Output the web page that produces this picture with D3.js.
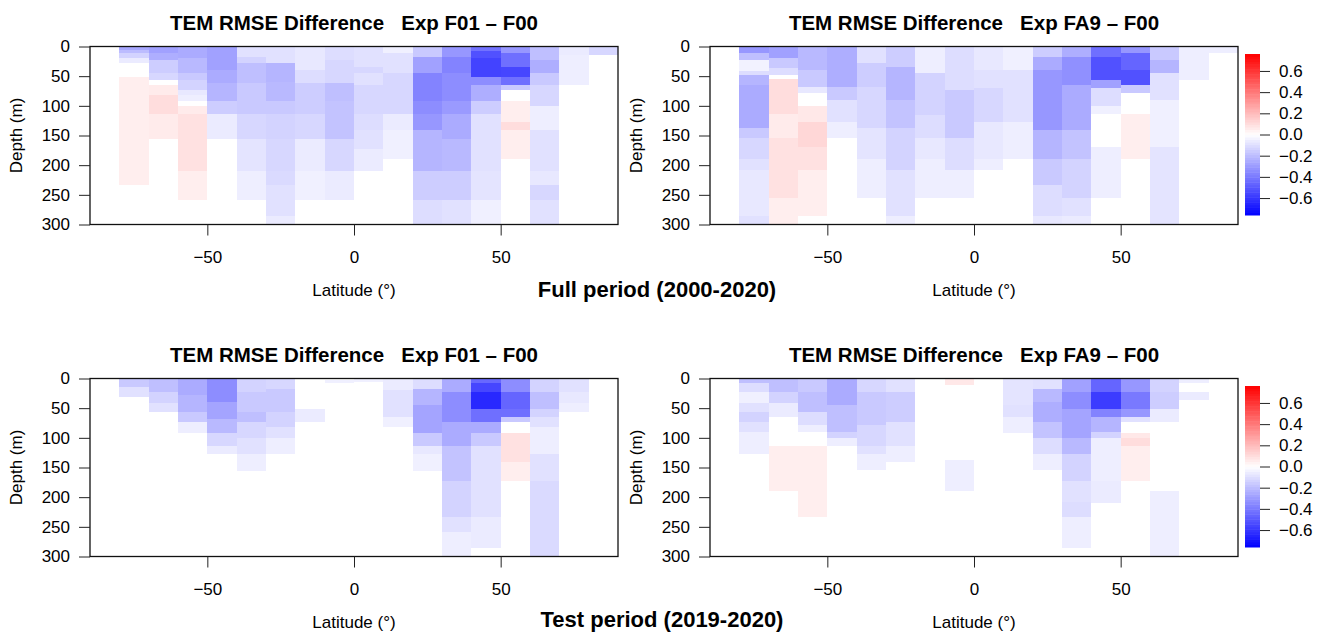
<!DOCTYPE html>
<html>
<head>
<meta charset="utf-8">
<script src="https://cdn.jsdelivr.net/npm/d3@7"></script>
<style>
body { margin: 0; background: #fff; }
text { font-family: "Liberation Sans", Arial, Helvetica, sans-serif; fill: #000; }
</style>
</head>
<body>
<div id="chart"></div>
<script>
// RMSE difference sections, latitude x depth
// each column = one 10 degree latitude band, holding [top, bottom, value] depth segments
const latEdges = [-90, -80, -70, -60, -50, -40, -30, -20, -10, 0, 10, 20, 30, 40, 50, 60, 70, 80, 90];
const latTicks = [-50, 0, 50];
const depthTicks = [0, 50, 100, 150, 200, 250, 300];
const legendTicks = [0.6, 0.4, 0.2, 0.0, -0.2, -0.4, -0.6];

// full period, F01 - F00
const fullF01 = [
  [],
  [[0,6,-0.26],[6,11,-0.20],[11,20,-0.13],[20,28,-0.06],[51,234,0.05]],
  [[0,11,-0.28],[11,22,-0.24],[22,45,-0.15],[45,56,-0.12],[65,82,0.06],[82,114,0.10],[114,156,0.06]],
  [[0,20,-0.25],[20,45,-0.21],[45,56,-0.16],[56,73,-0.13],[73,82,-0.07],[82,92,-0.05],[101,114,0.06],[114,210,0.09],[210,259,0.05]],
  [[0,40,-0.28],[40,62,-0.25],[62,92,-0.22],[92,114,-0.15],[114,156,-0.06]],
  [[0,17,-0.09],[17,28,-0.13],[28,62,-0.19],[62,114,-0.16],[114,156,-0.12],[156,210,-0.08],[210,259,-0.05]],
  [[0,28,-0.09],[28,59,-0.22],[59,92,-0.21],[92,114,-0.16],[114,156,-0.13],[156,210,-0.12],[210,234,-0.11],[234,285,-0.09],[285,300,-0.06]],
  [[0,40,-0.07],[40,62,-0.10],[62,114,-0.15],[114,156,-0.12],[156,210,-0.06],[210,259,-0.045]],
  [[0,23,-0.10],[23,62,-0.12],[62,92,-0.19],[92,156,-0.18],[156,210,-0.12],[210,259,-0.06]],
  [[0,34,-0.09],[34,45,-0.12],[45,65,-0.09],[65,114,-0.12],[114,141,-0.10],[141,172,-0.09],[172,210,-0.06]],
  [[0,11,-0.045],[11,45,-0.09],[45,114,-0.12],[114,141,-0.06],[141,189,-0.045]],
  [[0,17,-0.16],[17,45,-0.28],[45,92,-0.37],[92,114,-0.34],[114,141,-0.31],[141,210,-0.22],[210,259,-0.15],[259,300,-0.10]],
  [[0,17,-0.31],[17,45,-0.37],[45,92,-0.34],[92,114,-0.30],[114,156,-0.25],[156,210,-0.21],[210,259,-0.15],[259,300,-0.09]],
  [[0,8,-0.42],[8,20,-0.52],[20,51,-0.56],[51,65,-0.34],[65,92,-0.24],[92,114,-0.15],[114,210,-0.09],[210,259,-0.08],[259,300,-0.045]],
  [[0,11,-0.31],[11,34,-0.43],[34,51,-0.55],[51,65,-0.43],[65,73,-0.16],[92,127,0.05],[127,141,0.10],[141,189,0.05]],
  [[0,23,-0.19],[23,45,-0.24],[45,65,-0.16],[65,101,-0.12],[101,141,-0.05],[141,210,-0.09],[210,234,-0.07],[234,259,-0.12],[259,300,-0.09]],
  [[0,14,-0.06],[14,65,-0.05]],
  [[0,14,-0.12]]
];

// full period, FA9 - F00
const fullFA9 = [
  [],
  [[0,11,-0.31],[11,23,-0.19],[23,42,-0.04],[42,48,-0.10],[48,65,-0.22],[65,138,-0.25],[138,155,-0.16],[155,189,-0.12],[189,208,-0.09],[208,285,-0.07],[285,300,-0.09]],
  [[0,20,-0.28],[20,37,-0.16],[37,48,-0.10],[55,113,0.10],[113,155,0.06],[155,256,0.09],[256,300,0.05]],
  [[0,39,-0.21],[39,68,-0.16],[68,79,-0.07],[101,127,0.07],[127,169,0.12],[169,208,0.09],[208,285,0.05]],
  [[0,68,-0.24],[68,90,-0.16],[90,127,-0.09],[127,155,-0.05]],
  [[0,28,-0.09],[28,68,-0.15],[68,138,-0.12],[138,189,-0.08],[189,256,-0.05]],
  [[0,34,-0.15],[34,90,-0.22],[90,138,-0.18],[138,208,-0.13],[208,285,-0.09],[285,300,-0.05]],
  [[0,45,-0.05],[45,115,-0.13],[115,155,-0.10],[155,189,-0.07],[189,256,-0.05]],
  [[0,73,-0.10],[73,155,-0.16],[155,208,-0.10],[208,256,-0.05]],
  [[0,39,-0.07],[39,70,-0.09],[70,127,-0.12],[127,189,-0.07],[189,208,-0.05]],
  [[0,39,-0.045],[39,127,-0.09],[127,189,-0.05]],
  [[0,17,-0.15],[17,39,-0.25],[39,141,-0.31],[141,189,-0.22],[189,234,-0.16],[234,285,-0.10],[285,300,-0.07]],
  [[0,17,-0.24],[17,65,-0.33],[65,141,-0.25],[141,189,-0.18],[189,256,-0.13],[256,285,-0.09],[285,300,-0.06]],
  [[0,17,-0.43],[17,56,-0.52],[56,70,-0.28],[70,101,-0.10],[101,113,-0.045],[169,256,-0.05]],
  [[0,11,-0.31],[11,39,-0.46],[39,65,-0.52],[65,79,-0.16],[113,189,0.05]],
  [[0,23,-0.16],[23,45,-0.22],[45,90,-0.09],[90,169,-0.045],[169,300,-0.08]],
  [[0,56,-0.05]],
  [[0,11,-0.05]]
];

// test period, F01 - F00
const testF01 = [
  [],
  [[0,14,-0.16],[14,31,-0.09]],
  [[0,23,-0.19],[23,42,-0.13],[42,56,-0.09]],
  [[0,28,-0.25],[28,56,-0.22],[56,73,-0.16],[73,92,-0.05]],
  [[0,40,-0.34],[40,68,-0.27],[68,92,-0.21],[92,114,-0.12],[114,127,-0.06]],
  [[0,23,-0.13],[23,56,-0.16],[56,73,-0.19],[73,101,-0.12],[101,127,-0.09],[127,156,-0.05]],
  [[0,17,-0.12],[17,56,-0.16],[56,82,-0.13],[82,101,-0.09],[101,127,-0.05]],
  [[51,73,-0.06]],
  [[3,8,-0.045]],
  [[0,6,-0.045]],
  [[0,20,-0.06],[20,65,-0.09],[65,82,-0.045]],
  [[0,17,-0.10],[17,45,-0.22],[45,92,-0.27],[92,113,-0.16],[113,127,-0.07],[127,156,-0.045]],
  [[0,23,-0.25],[23,73,-0.34],[73,113,-0.25],[113,172,-0.18],[172,234,-0.13],[234,259,-0.09],[259,300,-0.05]],
  [[0,8,-0.45],[8,23,-0.55],[23,51,-0.64],[51,73,-0.43],[73,92,-0.25],[92,113,-0.16],[113,234,-0.09],[234,285,-0.06]],
  [[0,23,-0.34],[23,51,-0.46],[51,65,-0.43],[65,73,-0.16],[92,141,0.09],[141,172,0.05]],
  [[0,23,-0.13],[23,51,-0.19],[51,65,-0.13],[65,82,-0.09],[82,127,-0.05],[127,172,-0.09],[172,300,-0.11]],
  [[0,23,-0.09],[23,42,-0.07],[42,56,-0.05]],
  []
];

// test period, FA9 - F00
const testFA9 = [
  [],
  [[0,8,-0.19],[8,23,-0.10],[23,42,-0.045],[42,56,-0.09],[56,73,-0.13],[73,90,-0.09],[90,127,-0.05]],
  [[0,23,-0.19],[23,42,-0.13],[42,65,-0.06],[113,189,0.05]],
  [[0,23,-0.16],[23,56,-0.19],[56,79,-0.10],[79,90,-0.05],[113,234,0.05]],
  [[0,45,-0.25],[45,90,-0.19],[90,101,-0.13],[101,113,-0.05]],
  [[0,23,-0.12],[23,79,-0.16],[79,113,-0.12],[113,127,-0.09],[127,155,-0.05]],
  [[0,23,-0.09],[23,73,-0.15],[73,113,-0.09],[113,141,-0.05]],
  [],
  [[0,11,0.07],[138,189,-0.05]],
  [],
  [[0,45,-0.08],[45,65,-0.09],[65,92,-0.05]],
  [[0,17,-0.09],[17,39,-0.21],[39,73,-0.24],[73,101,-0.18],[101,127,-0.10],[127,155,-0.05]],
  [[0,23,-0.28],[23,51,-0.34],[51,101,-0.27],[101,127,-0.21],[127,172,-0.13],[172,208,-0.09],[208,234,-0.10],[234,285,-0.05]],
  [[0,23,-0.46],[23,51,-0.58],[51,65,-0.37],[65,90,-0.22],[90,101,-0.13],[101,172,-0.05],[172,210,-0.06]],
  [[0,23,-0.31],[23,51,-0.40],[51,65,-0.31],[65,73,-0.09],[92,101,0.07],[101,113,0.10],[113,172,0.05]],
  [[0,23,-0.13],[23,51,-0.15],[51,73,-0.06],[189,300,-0.05]],
  [[0,8,-0.05],[23,37,-0.06]],
  []
];

const width = 1331;
const height = 632;
const plotW = 528;
const plotH = 178;

const panels = [
  {cols: fullF01, exp: "F01", left: 90,  top: 46.5,  legend: false},
  {cols: fullFA9, exp: "FA9", left: 710, top: 46.5,  legend: true},
  {cols: testF01, exp: "F01", left: 90,  top: 378.5, legend: false},
  {cols: testFA9, exp: "FA9", left: 710, top: 378.5, legend: true}
];

const zlim = 0.76;
const color = d3.scaleLinear()
  .domain([-zlim, 0, zlim])
  .range(["#0000ff", "#ffffff", "#ff0000"]);

const minus = s => s.replace("-", "\u2212");

const svg = d3.select("#chart")
  .append("svg")
  .attr("width", width)
  .attr("height", height)
  .style("background", "#fff");

panels.forEach(p => {
  const x = d3.scaleLinear().domain([-90, 90]).range([p.left, p.left + plotW]);
  const y = d3.scaleLinear().domain([0, 300]).range([p.top, p.top + plotH]);

  const g = svg.append("g");

  // cells
  p.cols.forEach((col, i) => {
    g.selectAll(null)
      .data(col)
      .enter()
      .append("rect")
        .attr("x", x(latEdges[i]))
        .attr("width", x(latEdges[i + 1]) - x(latEdges[i]))
        .attr("y", d => y(d[0]))
        .attr("height", d => y(Math.min(d[1], 300)) - y(d[0]))
        .attr("fill", d => color(d[2]))
        .attr("shape-rendering", "crispEdges");
  });

  // box
  g.append("rect")
    .attr("x", p.left)
    .attr("y", p.top)
    .attr("width", plotW)
    .attr("height", plotH)
    .attr("fill", "none")
    .attr("stroke", "#111")
    .attr("stroke-width", 1.3);

  // axes
  const yAxis = g.append("g")
    .attr("transform", `translate(${p.left},0)`)
    .call(d3.axisLeft(y).tickValues(depthTicks).tickSize(11).tickPadding(9));
  yAxis.select(".domain").remove();
  yAxis.selectAll("line").attr("stroke", "#222");
  yAxis.selectAll("text").attr("font-size", "17px").attr("font-family", null);

  const xAxis = g.append("g")
    .attr("transform", `translate(0,${p.top + plotH})`)
    .call(d3.axisBottom(x).tickValues(latTicks).tickSize(11).tickPadding(15)
      .tickFormat(d => minus(String(d))));
  xAxis.select(".domain").remove();
  xAxis.selectAll("line").attr("stroke", "#222");
  xAxis.selectAll("text").attr("font-size", "17px").attr("font-family", null);

  // labels
  g.append("text")
    .attr("x", x(0))
    .attr("y", p.top - 17)
    .attr("text-anchor", "middle")
    .attr("font-size", "20.5px")
    .attr("font-weight", "bold")
    .style("white-space", "pre")
    .text(`TEM RMSE Difference   Exp ${p.exp} \u2013 F00`);

  g.append("text")
    .attr("x", x(0))
    .attr("y", p.top + plotH + 71)
    .attr("text-anchor", "middle")
    .attr("font-size", "17px")
    .text("Latitude (\u00b0)");

  g.append("text")
    .attr("transform", `translate(${p.left - 68},${p.top + plotH / 2}) rotate(-90)`)
    .attr("text-anchor", "middle")
    .attr("font-size", "17px")
    .text("Depth (m)");

  // colour bar
  if (p.legend) {
    const cb = d3.scaleLinear().domain([-zlim, zlim]).range([p.top + 168.5, p.top + 7.5]);
    const step = (2 * zlim) / 64;
    const steps = d3.range(-zlim, zlim - step / 2, step);
    g.selectAll(null)
      .data(steps)
      .enter()
      .append("rect")
        .attr("x", p.left + plotW + 7)
        .attr("width", 15)
        .attr("y", d => cb(d + step))
        .attr("height", d => cb(d) - cb(d + step) + 0.5)
        .attr("fill", d => color(d + step / 2));

    const cAxis = g.append("g")
      .attr("transform", `translate(${p.left + plotW + 22},0)`)
      .call(d3.axisRight(cb).tickValues(legendTicks).tickSize(10).tickPadding(9)
        .tickFormat(d => minus(d3.format(".1f")(d))));
    cAxis.select(".domain").remove();
    cAxis.selectAll("line").attr("stroke", "#222");
    cAxis.selectAll("text").attr("font-size", "17px").attr("font-family", null);
  }
});

// period labels
svg.append("text")
  .attr("x", 657)
  .attr("y", 297)
  .attr("text-anchor", "middle")
  .attr("font-size", "22px")
  .attr("font-weight", "bold")
  .text("Full period (2000-2020)");

svg.append("text")
  .attr("x", 662)
  .attr("y", 627)
  .attr("text-anchor", "middle")
  .attr("font-size", "22px")
  .attr("font-weight", "bold")
  .text("Test period (2019-2020)");
</script>
</body>
</html>
